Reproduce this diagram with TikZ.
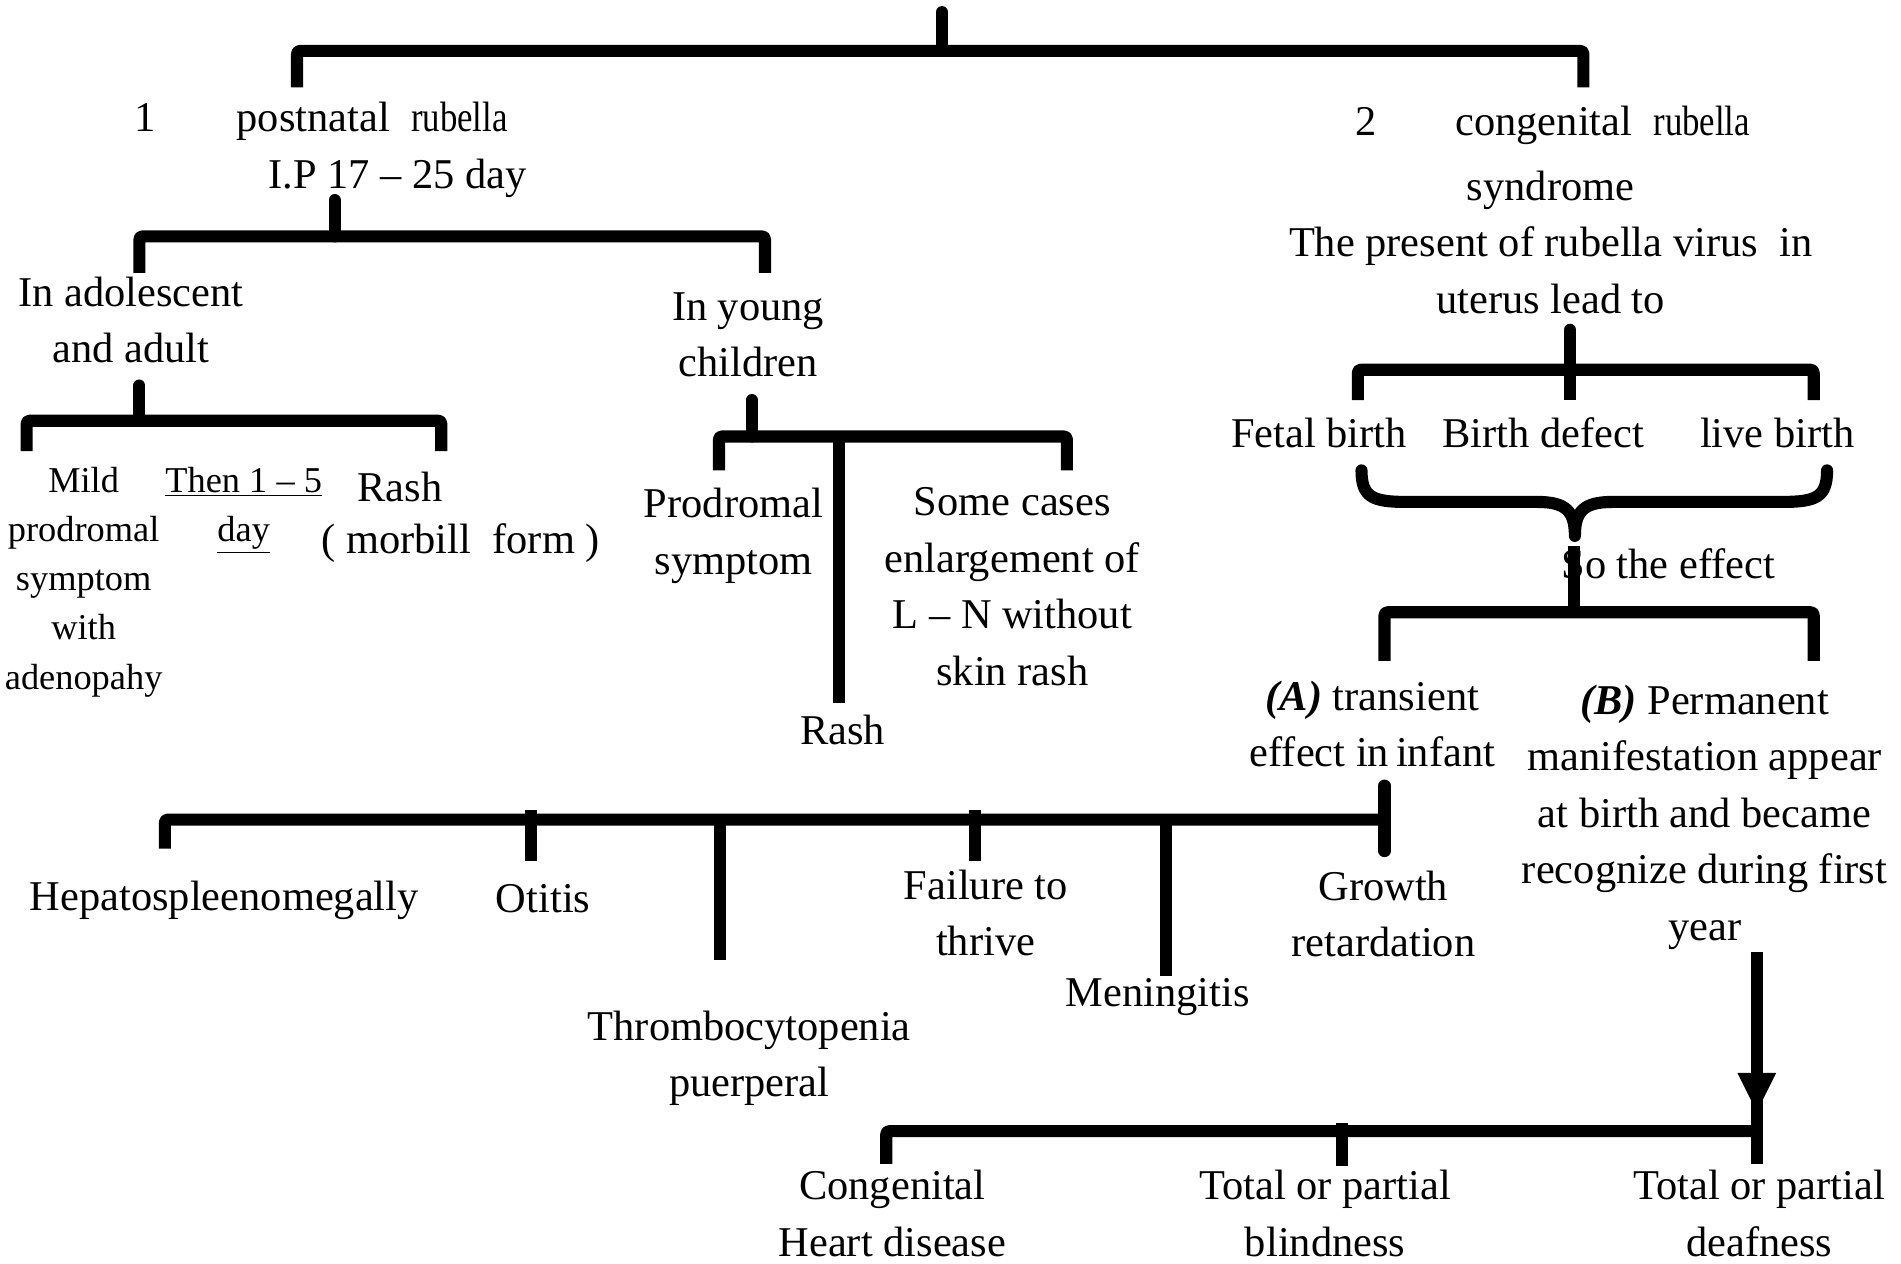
\documentclass[tikz,border=0pt]{standalone}
\usepackage{fontspec}
\usepackage{graphicx}
\setmainfont{Liberation Serif}
\begin{document}
\begin{tikzpicture}[x=0.6pt,y=-0.6pt,
  br/.style={line width=6pt, line join=round, rounded corners=1.5pt},
  stem/.style={line width=6pt, line cap=round},
  tick/.style={line width=6pt},
  tx/.style={font=\fontsize{21}{28}\selectfont, align=center, inner sep=0pt},
  sm/.style={font=\fontsize{18}{24.4}\selectfont, align=center, inner sep=0pt}]
\useasboundingbox (0,0) rectangle (1568,1042);

% ---------- top level ----------
\coordinate (top) at (777,10);
\node[tx] (n1) at (120,97) {1};
\node[tx] (post) at (307,100) {postnatal\ \ \scalebox{0.82}[1]{rubella}};
\node[tx] (ip) at (328,147) {I.P 17 -- 25 day};
\node[tx] (n2) at (1127,100) {2};
\node[tx] (cong) at (1322,103) {congenital\ \ \scalebox{0.82}[1]{rubella}};
\node[tx] (syn) at (1279,200) {syndrome\\The present of rubella virus\ \ in\\uterus lead to};

\draw[stem] (top) -- (777,42);
\draw[br] (245,72) -- (245,42) -- (1306,42) -- (1306,72);

% ---------- postnatal ----------
\node[tx] (adol) at (108,264) {In adolescent\\and adult};
\node[tx] (young) at (617,276) {In young\\children};
\draw[stem] (276,165) -- (276,195);
\draw[br] (115,225) -- (115,195) -- (631,195) -- (631,225);

% adolescent
\node[sm] (mild) at (69,480) {Mild\\prodromal\\symptom\\with\\adenopahy};
\node[sm] (then) at (201,421) {\underline{Then 1 -- 5}\\\underline{day}};
\node[tx] (rash1) at (330,402) {Rash};
\node[tx] (morb) at (380,448) {( morbill\ \ form )};
\draw[stem] (115,318) -- (115,347);
\draw[br] (22,372) -- (22,347) -- (364,347) -- (364,372);

% young children
\node[tx] (prod) at (605,442) {Prodromal\\symptom};
\node[tx] (some) at (835,484) {Some cases\\enlargement of\\L -- N without\\skin rash};
\node[tx] (rash2) at (695,602) {Rash};
\draw[stem] (620,330) -- (620,360);
\draw[br] (593,388) -- (593,360) -- (880,360) -- (880,388);
\draw[tick] (692,360) -- (692,580);

% ---------- congenital ----------
\node[tx] (fetal) at (1088,357) {Fetal birth};
\node[tx] (defect) at (1273,357) {Birth defect};
\node[tx] (live) at (1466,357) {live birth};
\draw[stem] (1295,272) -- (1295,305);
\draw[br] (1120,330) -- (1120,305) -- (1496,305) -- (1496,330);
\draw[tick] (1295,305) -- (1295,330);

% brace
\draw[line width=6pt, line cap=round, line join=round]
  (1123,388) .. controls (1123,410) and (1132,414) .. (1160,414) -- (1268,414)
  .. controls (1292,414) and (1299,422) .. (1299,442)
  .. controls (1299,422) and (1306,414) .. (1330,414) -- (1470,414)
  .. controls (1498,414) and (1507,410) .. (1507,388);

\node[tx] (so) at (1376,465) {So the effect};
\draw[tick] (1298,450) -- (1298,505);
\draw[br] (1142,545) -- (1142,505) -- (1496,505) -- (1496,545);

\node[tx] (A) at (1132,597) {\textbf{\textit{(A)}} transient\\effect in\,infant};
\node[tx] (B) at (1406,674) {\textbf{\textit{(B)}} Permanent\\manifestation appear\\at birth and became\\recognize during first\\year};

% ---------- transient effects ----------
\draw[br] (136,700) -- (136,676) -- (1142,676);
\draw[stem] (1142,648) -- (1142,702);
\draw[tick] (438,668) -- (438,710);
\draw[tick] (594,676) -- (594,792);
\draw[tick] (804,668) -- (804,710);
\draw[tick] (962,676) -- (962,805);

\node[tx] (hep) at (185,743) {Hepatospleenomegally};
\node[tx] (oti) at (448,741) {Otitis};
\node[tx] (thr) at (618,873) {Thrombocytopenia\\puerperal};
\node[tx] (fail) at (813,753) {Failure to\\thrive};
\node[tx] (men) at (955,822) {Meningitis};
\node[tx] (gro) at (1141,754) {Growth\\retardation};

% ---------- permanent effects ----------
\draw[tick] (1449,785) -- (1449,960);
\fill (1433,885) -- (1465,885) -- (1449,917) -- cycle;
\draw[br] (731,960) -- (731,933) -- (1449,933);
\draw[tick] (1107,926) -- (1107,962);

\node[tx] (chd) at (736,1001) {Congenital\\Heart disease};
\node[tx] (bli) at (1093,1001) {Total or partial\\blindness};
\node[tx] (dea) at (1451,1001) {Total or partial\\deafness};
\end{tikzpicture}
\end{document}
